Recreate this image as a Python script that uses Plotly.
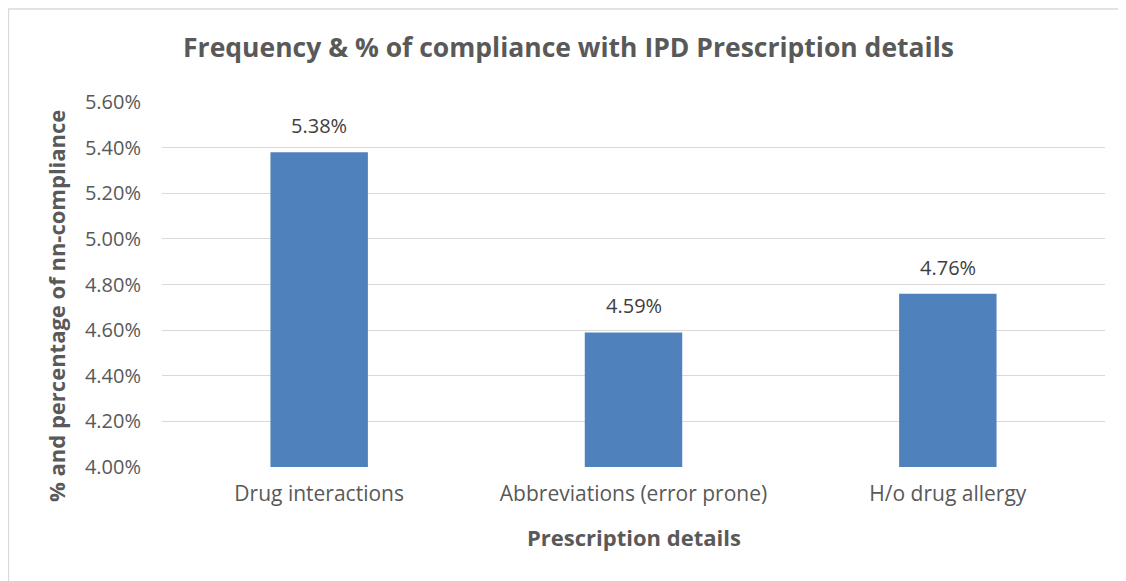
import plotly.graph_objects as go

categories = ["Drug interactions", "Abbreviations (error prone)", "H/o drug allergy"]
values = [0.0538, 0.0459, 0.0476]
value_labels = ["5.38%", "4.59%", "4.76%"]
tick_vals = [0.040, 0.042, 0.044, 0.046, 0.048, 0.050, 0.052, 0.054, 0.056]
tick_text = ["4.00%", "4.20%", "4.40%", "4.60%", "4.80%", "5.00%", "5.20%", "5.40%", "5.60%"]

# page body has an 8px margin, so the figure is sized/offset accordingly
W, H = 1118, 573
ML, MR, MT, MB = 154, 21, 94, 114
PW, PH = W - ML - MR, H - MT - MB
FONT = "Open Sans"
GREY = "#595959"

def px_x(x):
    return (x - ML) / PW

def px_y(y):
    return (H - MB - y) / PH

fig = go.Figure(go.Bar(
    x=categories, y=values,
    marker=dict(color="#4F81BD", line=dict(width=0)),
    width=0.31,
    hoverinfo="skip",
))

annotations = []
for c, v, t in zip(categories, values, value_labels):
    annotations.append(dict(x=c, y=v, xref="x", yref="y", text=t, showarrow=False,
                            yanchor="bottom", yshift=11,
                            font=dict(family=FONT, size=20, color="#404040")))

annotations.append(dict(text="<b>% and percentage of nn-compliance</b>", textangle=-90,
                        xref="paper", yref="paper", x=px_x(48), y=px_y(298),
                        xanchor="center", yanchor="middle", showarrow=False,
                        font=dict(family=FONT, size=22, color=GREY)))
annotations.append(dict(text="<b>Prescription details</b>",
                        xref="paper", yref="paper", x=0.5, y=px_y(529),
                        xanchor="center", yanchor="middle", showarrow=False,
                        font=dict(family=FONT, size=22, color=GREY)))

fig.update_layout(
    width=W, height=H,
    margin=dict(l=ML, r=MR, t=MT, b=MB, autoexpand=False),
    paper_bgcolor="white", plot_bgcolor="white",
    showlegend=False,
    title=dict(text="<b>Frequency &amp; % of compliance with IPD Prescription details</b>",
               x=560.5 / W, xanchor="center",
               y=1 - 40 / H, yanchor="middle",
               font=dict(family=FONT, size=26.5, color=GREY)),
    xaxis=dict(
        tickfont=dict(family=FONT, size=21, color=GREY),
        showgrid=False, showline=False, ticks="", ticklabelstandoff=12,
    ),
    yaxis=dict(
        range=[0.040, 0.056], tickvals=tick_vals, ticktext=tick_text,
        tickfont=dict(family=FONT, size=20, color=GREY),
        showgrid=True, gridcolor="#D9D9D9", gridwidth=1.3,
        zeroline=False, showline=False, ticks="", ticklabelstandoff=20,
    ),
    annotations=annotations,
    shapes=[dict(type="rect", xref="paper", yref="paper",
                 x0=px_x(0.5), x1=px_x(W + 20),
                 y0=px_y(H + 20), y1=px_y(1),
                 line=dict(color="#D9D9D9", width=1.3), fillcolor="rgba(0,0,0,0)", layer="below")],
)

fig.write_html("out.html")
